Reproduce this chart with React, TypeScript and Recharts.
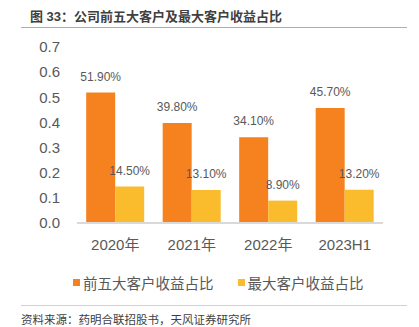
import React from 'react';
import { BarChart, Bar, XAxis, YAxis, LabelList } from 'recharts';

const years = ['2020年', '2021年', '2022年', '2023H1'];
const top5Share = [0.519, 0.398, 0.341, 0.457];
const topShare = [0.145, 0.131, 0.089, 0.132];
const yTicks = [0, 0.1, 0.2, 0.3, 0.4, 0.5, 0.6, 0.7];
const seriesNames = ['前五大客户收益占比', '最大客户收益占比'];
const seriesColors = ['#F5821F', '#FABB2C'];

const data = years.map((y, i) => ({ year: y, top5: top5Share[i], top1: topShare[i] }));

const font = '"Liberation Sans", Arial, "Noto Sans CJK SC", sans-serif';
const pct = (v: any) => `${(Number(v) * 100).toFixed(2)}%`;

const App: React.FC = () => {
  return (
    <div style={{ position: 'absolute', left: 0, top: 0, width: 419, height: 327, background: '#fff', fontFamily: font }}>
      <div style={{ position: 'absolute', left: 30, top: 6, fontSize: 13, fontWeight: 'bold', color: '#404040', whiteSpace: 'nowrap' }}>
        图 33：公司前五大客户及最大客户收益占比
      </div>
      <div style={{ position: 'absolute', left: 21, top: 27, width: 386, height: 1, background: '#E9A064' }} />

      <div style={{ position: 'absolute', left: 0, top: 0 }}>
        <BarChart
          width={419}
          height={263}
          data={data}
          margin={{ top: 47, right: 36, left: 0, bottom: 0 }}
          barCategoryGap="12%"
          barGap={0}
        >
          <YAxis
            width={77}
            domain={[0, 0.7]}
            ticks={yTicks}
            tickFormatter={(v: number) => v.toFixed(1)}
            axisLine={false}
            tickLine={false}
            tickMargin={11}
            tick={{ fill: '#595959', fontSize: 15, fontFamily: font }}
          />
          <XAxis
            dataKey="year"
            height={40}
            axisLine={{ stroke: '#D9D9D9', strokeWidth: 2 }}
            tickLine={false}
            tickMargin={10}
            tick={{ fill: '#595959', fontSize: 15, fontFamily: font }}
          />
          <Bar dataKey="top5" name={seriesNames[0]} fill={seriesColors[0]} isAnimationActive={false}>
            <LabelList dataKey="top5" position="top" offset={12} formatter={pct} fill="#595959" fontSize={12} fontFamily={font} />
          </Bar>
          <Bar dataKey="top1" name={seriesNames[1]} fill={seriesColors[1]} isAnimationActive={false}>
            <LabelList dataKey="top1" position="top" offset={12} formatter={pct} fill="#595959" fontSize={12} fontFamily={font} />
          </Bar>
        </BarChart>
      </div>

      <div style={{ position: 'absolute', left: 73, top: 272, display: 'flex', alignItems: 'center', fontSize: 14.5, color: '#595959', whiteSpace: 'nowrap' }}>
        {seriesNames.map((n, i) => (
          <div key={n} style={{ display: 'flex', alignItems: 'center', marginRight: i === 0 ? 24 : 0 }}>
            <span style={{ width: 7, height: 7, background: seriesColors[i], marginRight: 3, display: 'inline-block' }} />
            <span>{n}</span>
          </div>
        ))}
      </div>

      <div style={{ position: 'absolute', left: 21, top: 305, width: 386, height: 1, background: '#F5C9A2' }} />
      <div style={{ position: 'absolute', left: 21, top: 311, fontSize: 11.5, color: '#404040', whiteSpace: 'nowrap' }}>
        资料来源：药明合联招股书，天风证券研究所
      </div>
    </div>
  );
};

export default App;
